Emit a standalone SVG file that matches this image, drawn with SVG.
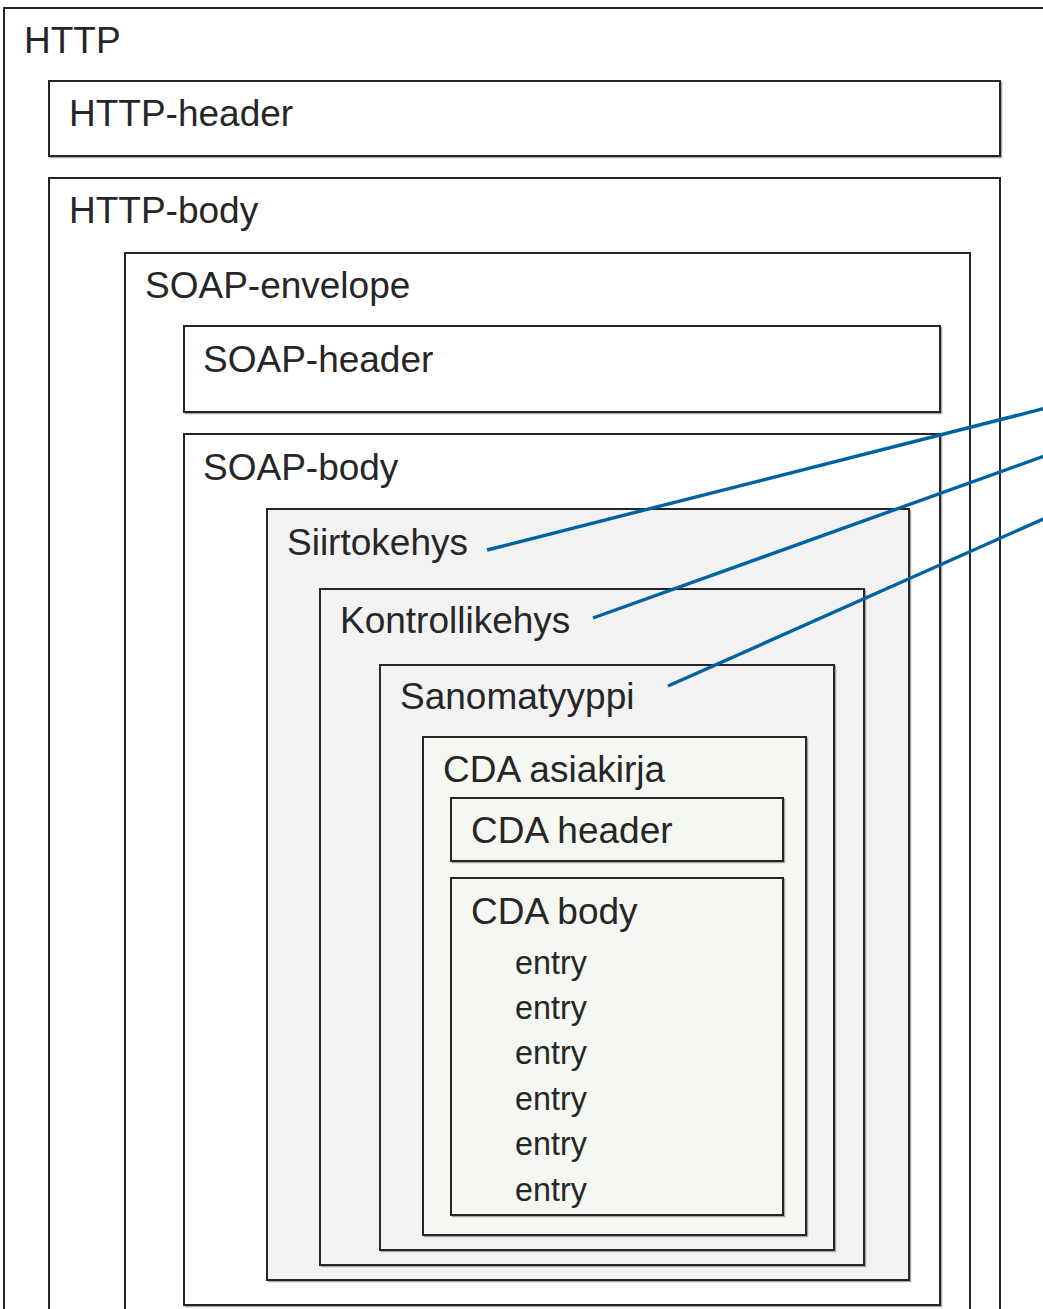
<svg xmlns="http://www.w3.org/2000/svg" width="1043" height="1309" viewBox="0 0 1043 1309">
<style>
.b{fill:#ffffff;stroke:#262626;stroke-width:2}
.g{fill:#f2f2f2;stroke:#262626;stroke-width:2}
.c{fill:#f5f7f2;stroke:#262626;stroke-width:2}
.s{fill:none;stroke:#a6a6a6;stroke-width:1.5}
.t{font-family:"Liberation Sans",Arial,sans-serif;font-size:37px;fill:#262626}
.e{font-family:"Liberation Sans",Arial,sans-serif;font-size:32.3px;fill:#262626}
.l{fill:none;stroke:#0063a0;stroke-width:3.4}
</style>
<rect width="1043" height="1309" fill="#ffffff"/>
<g id="http">
<rect class="b" x="4" y="8" width="1100" height="1400"/>
<text class="t" x="24" y="53">HTTP</text>
</g>
<g id="http-header">
<rect class="s" x="50.5" y="82.5" width="951" height="75"/>
<rect class="b" x="49" y="81" width="951" height="75"/>
<text class="t" x="69" y="126">HTTP-header</text>
</g>
<g id="http-body">
<rect class="b" x="49" y="178" width="951" height="1300"/>
<text class="t" x="69" y="223">HTTP-body</text>
</g>
<g id="soap-envelope">
<rect class="b" x="125" y="253" width="845" height="1200"/>
<text class="t" x="145" y="298">SOAP-envelope</text>
</g>
<g id="soap-header">
<rect class="s" x="185.5" y="327.5" width="756" height="86"/>
<rect class="b" x="184" y="326" width="756" height="86"/>
<text class="t" x="203" y="372">SOAP-header</text>
</g>
<g id="soap-body">
<rect class="s" x="185.5" y="435.5" width="756" height="871"/>
<rect class="b" x="184" y="434" width="756" height="871"/>
<text class="t" x="203" y="480">SOAP-body</text>
</g>
<g id="siirtokehys">
<rect class="s" x="268.5" y="510.5" width="642" height="771"/>
<rect class="g" x="267" y="509" width="642" height="771"/>
<text class="t" x="287" y="555">Siirtokehys</text>
</g>
<g id="kontrollikehys">
<rect class="s" x="321.5" y="590.5" width="544" height="676"/>
<rect class="g" x="320" y="589" width="544" height="676"/>
<text class="t" x="340" y="633">Kontrollikehys</text>
</g>
<g id="sanomatyyppi">
<rect class="s" x="381.5" y="666.5" width="454" height="585"/>
<rect class="g" x="380" y="665" width="454" height="585"/>
<text class="t" x="400" y="709">Sanomatyyppi</text>
</g>
<g id="cda-asiakirja">
<rect class="s" x="424.5" y="738.5" width="383" height="498"/>
<rect class="c" x="423" y="737" width="383" height="498"/>
<text class="t" x="443" y="782">CDA asiakirja</text>
</g>
<g id="cda-header">
<rect class="s" x="452.5" y="799.5" width="332" height="63"/>
<rect class="c" x="451" y="798" width="332" height="63"/>
<text class="t" x="471" y="843">CDA header</text>
</g>
<g id="cda-body">
<rect class="s" x="452.5" y="879.5" width="332" height="337"/>
<rect class="c" x="451" y="878" width="332" height="337"/>
<text class="t" x="471" y="924">CDA body</text>
<text class="e" x="515" y="974">entry</text>
<text class="e" x="515" y="1019">entry</text>
<text class="e" x="515" y="1064">entry</text>
<text class="e" x="515" y="1110">entry</text>
<text class="e" x="515" y="1155">entry</text>
<text class="e" x="515" y="1201">entry</text>
</g>
<g id="connectors">
<line class="l" x1="487" y1="550" x2="1050" y2="407"/>
<line class="l" x1="593" y1="618" x2="1050" y2="454"/>
<line class="l" x1="668" y1="686" x2="1050" y2="516"/>
</g>
</svg>
